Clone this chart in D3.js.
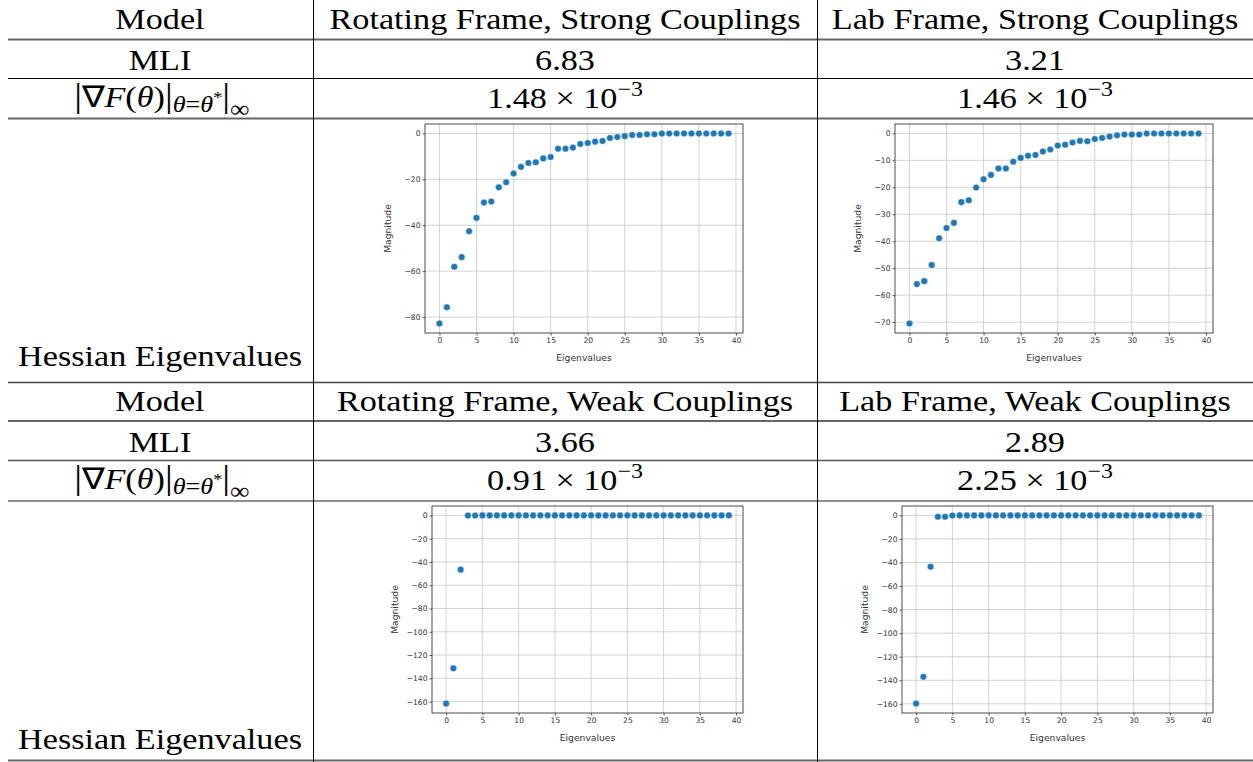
<!DOCTYPE html>
<html>
<head>
<meta charset="utf-8">
<script src="https://cdn.jsdelivr.net/npm/d3@7"></script>
<style>
  body { margin: 0; background: #fff; }
  .cell { font-family: "Liberation Serif", serif; font-size: 30px; fill: #000; }
  .tick text { font-family: "DejaVu Sans", sans-serif; font-size: 7.6px; fill: #333; }
  .axisText { font-family: "DejaVu Sans", sans-serif; font-size: 9.2px; fill: #333; }
</style>
</head>
<body>
<div id="table"></div>
<script>
// table contents
var modelNames = ["Rotating Frame, Strong Couplings", "Lab Frame, Strong Couplings",
                  "Rotating Frame, Weak Couplings", "Lab Frame, Weak Couplings"];
var mliValues = ["6.83", "3.21", "3.66", "2.89"];
var gradValues = ["1.48", "1.46", "0.91", "2.25"];

// eigenvalue index (x)
var eigIndex = [0,1,2,3,4,5,6,7,8,9,10,11,12,13,14,15,16,17,18,19,
                20,21,22,23,24,25,26,27,28,29,30,31,32,33,34,35,36,37,38,39];

// hessian eigenvalues
var rotStrong = [-82.8,-75.7,-58.1,-53.9,-42.6,-36.8,-30.1,-29.7,-23.5,-21.3,
                 -17.5,-14.6,-12.9,-12.6,-10.9,-10.3,-6.7,-6.7,-6.2,-4.6,
                 -4.2,-3.6,-3.3,-2.0,-1.6,-1.2,-0.7,-0.7,-0.4,-0.4,
                 -0.1,-0.05,-0.05,-0.05,-0.05,-0.05,-0.05,-0.05,-0.05,-0.05];
var labStrong = [-70.5,-55.9,-54.8,-48.8,-38.9,-35.1,-33.2,-25.5,-24.8,-20.1,
                 -17.0,-15.4,-13.0,-13.0,-10.5,-9.1,-8.3,-8.0,-6.7,-6.0,
                 -4.5,-4.2,-3.4,-2.8,-2.9,-2.1,-1.7,-1.2,-0.7,-0.4,
                 -0.4,-0.4,-0.05,-0.05,-0.05,-0.05,-0.05,-0.05,-0.05,-0.05];
var rotWeak = [-161.7,-131.4,-46.6,-0.1,-0.1,0,0,0,0,0,
               0,0,0,0,0,0,0,0,0,0,
               0,0,0,0,0,0,0,0,0,0,
               0,0,0,0,0,0,0,0,0,0];
var labWeak = [-159.8,-137.1,-43.6,-1.1,-1.1,-0.1,0,0,0,0,
               0,0,0,0,0,0,0,0,0,0,
               0,0,0,0,0,0,0,0,0,0,
               0,0,0,0,0,0,0,0,0,0];

var xTicks = [0,5,10,15,20,25,30,35,40];
var yTicksStrongRot = [0,-20,-40,-60,-80];
var yTicksStrongLab = [0,-10,-20,-30,-40,-50,-60,-70];
var yTicksWeak = [0,-20,-40,-60,-80,-100,-120,-140,-160];

var svgWidth = 1253;
var svgHeight = 762;

var svg = d3.select("#table")
  .append("svg")
  .attr("width", svgWidth)
  .attr("height", svgHeight);

// column centres and rule positions
var colCenter = [160, 565, 1035];
var vLines = [313, 817];
var hRules = [
  {y: 39.5, w: 2, c: "#666"}, {y: 78.5, w: 1, c: "#000"}, {y: 118.5, w: 2, c: "#666"},
  {y: 382.5, w: 1.5, c: "#444"}, {y: 421, w: 1.5, c: "#333"}, {y: 460.5, w: 1.5, c: "#555"},
  {y: 501, w: 1.2, c: "#222"}, {y: 760.5, w: 2, c: "#666"}
];
// computer modern is wider than times, so stretch the serif text a bit
var stretch = 1.14;

svg.selectAll(".hrule")
  .data(hRules)
  .enter()
  .append("line")
  .attr("x1", 8).attr("x2", svgWidth)
  .attr("y1", d => d.y).attr("y2", d => d.y)
  .attr("stroke", d => d.c)
  .attr("stroke-width", d => d.w);

svg.selectAll(".vrule")
  .data(vLines)
  .enter()
  .append("line")
  .attr("x1", d => d + 0.5).attr("x2", d => d + 0.5)
  .attr("y1", 0).attr("y2", svgHeight)
  .attr("stroke", "#000")
  .attr("stroke-width", 1);

function cellBase(x, y) {
  return svg.append("text")
    .attr("class", "cell")
    .attr("transform", `translate(${x}, ${y}) scale(${stretch}, 1)`)
    .attr("text-anchor", "middle");
}

function cellText(x, y, txt) {
  return cellBase(x, y).text(txt);
}

function gradLabel(x, y) {
  var t = cellBase(x, y);
  t.append("tspan").attr("font-size", "34px").text("|");
  t.append("tspan").text("∇");
  t.append("tspan").attr("font-style", "italic").text("F");
  t.append("tspan").text("(");
  t.append("tspan").attr("font-style", "italic").text("θ");
  t.append("tspan").text(")");
  t.append("tspan").attr("font-size", "34px").text("|");
  t.append("tspan").attr("font-size", "23px").attr("font-style", "italic").attr("dy", 5).text("θ");
  t.append("tspan").attr("font-size", "23px").text("=");
  t.append("tspan").attr("font-size", "23px").attr("font-style", "italic").text("θ");
  t.append("tspan").attr("font-size", "16px").attr("dy", -9).text("*");
  t.append("tspan").attr("font-size", "34px").attr("dy", 4).text("|");
  t.append("tspan").attr("font-size", "24px").attr("dy", 10).text("∞");
}

function sciLabel(x, y, mant) {
  var t = cellBase(x, y);
  t.append("tspan").text(mant + " × 10");
  t.append("tspan").attr("font-size", "21px").attr("dy", -12).text("−3");
}

// two blocks of rows
var blocks = [
  {off: 0, hess: 366, names: [0, 1]},
  {off: 382, hess: 749, names: [2, 3]}
];

blocks.forEach(function(b) {
  cellText(colCenter[0], 29 + b.off, "Model");
  cellText(colCenter[0], 70 + b.off, "MLI");
  gradLabel(colCenter[0] + 2, 107 + b.off);
  cellText(colCenter[0], b.hess, "Hessian Eigenvalues");
  b.names.forEach(function(n, j) {
    cellText(colCenter[j + 1], 29 + b.off, modelNames[n]);
    cellText(colCenter[j + 1], 70 + b.off, mliValues[n]);
    sciLabel(colCenter[j + 1], 108 + b.off, gradValues[n]);
  });
});

// scatter panels
var panels = [
  {vals: rotStrong, ticks: yTicksStrongRot, left: 425, right: 743, top: 124, bottom: 333},
  {vals: labStrong, ticks: yTicksStrongLab, left: 895, right: 1213, top: 124, bottom: 333},
  {vals: rotWeak, ticks: yTicksWeak, left: 432, right: 743, top: 506, bottom: 713},
  {vals: labWeak, ticks: yTicksWeak, left: 902, right: 1213, top: 506, bottom: 713}
];

panels.forEach(function(p) {
  var chartData = eigIndex.map(function(i) { return {idx: i, mag: p.vals[i]}; });

  var xMin = d3.min(eigIndex), xMax = d3.max(eigIndex);
  var xPad = (xMax - xMin) * 0.05;
  var yMin = d3.min(p.vals), yMax = d3.max(p.vals);
  var yPad = (yMax - yMin) * 0.05;

  var xLinearScale = d3.scaleLinear()
    .domain([xMin - xPad, xMax + xPad])
    .range([p.left, p.right]);

  var yLinearScale = d3.scaleLinear()
    .domain([yMin - yPad, yMax + yPad])
    .range([p.bottom, p.top]);

  var chartGroup = svg.append("g");

  // grid
  chartGroup.selectAll(".vgrid")
    .data(xTicks)
    .enter()
    .append("line")
    .attr("x1", d => xLinearScale(d)).attr("x2", d => xLinearScale(d))
    .attr("y1", p.top).attr("y2", p.bottom)
    .attr("stroke", "#c8c8c8").attr("stroke-width", 0.8);

  chartGroup.selectAll(".hgrid")
    .data(p.ticks)
    .enter()
    .append("line")
    .attr("x1", p.left).attr("x2", p.right)
    .attr("y1", d => yLinearScale(d)).attr("y2", d => yLinearScale(d))
    .attr("stroke", "#c8c8c8").attr("stroke-width", 0.8);

  // axes
  var bottomAxis = d3.axisBottom(xLinearScale).tickValues(xTicks).tickSize(2.5).tickPadding(2)
    .tickFormat(d3.format("d"));
  var leftAxis = d3.axisLeft(yLinearScale).tickValues(p.ticks).tickSize(2.5).tickPadding(2)
    .tickFormat(d => d < 0 ? "−" + Math.abs(d) : d);

  var bx = chartGroup.append("g")
    .attr("transform", `translate(0, ${p.bottom})`)
    .call(bottomAxis);
  var ly = chartGroup.append("g")
    .attr("transform", `translate(${p.left}, 0)`)
    .call(leftAxis);
  [bx, ly].forEach(function(a) {
    a.select(".domain").remove();
    a.selectAll(".tick line").attr("stroke", "#333").attr("stroke-width", 0.8);
  });

  // frame
  chartGroup.append("rect")
    .attr("x", p.left).attr("y", p.top)
    .attr("width", p.right - p.left).attr("height", p.bottom - p.top)
    .attr("fill", "none").attr("stroke", "#222").attr("stroke-width", 0.8);

  // points
  chartGroup.selectAll("circle")
    .data(chartData)
    .enter()
    .append("circle")
    .attr("cx", d => xLinearScale(d.idx))
    .attr("cy", d => yLinearScale(d.mag))
    .attr("r", 3.3)
    .attr("fill", "#1f77b4")
    .attr("stroke", "#ffffff")
    .attr("stroke-width", 0.4);

  // axis labels
  chartGroup.append("text")
    .attr("class", "axisText")
    .attr("text-anchor", "middle")
    .attr("x", (p.left + p.right) / 2)
    .attr("y", p.bottom + 28)
    .text("Eigenvalues");

  chartGroup.append("text")
    .attr("class", "axisText")
    .attr("text-anchor", "middle")
    .attr("transform", `translate(${p.left - 34}, ${(p.top + p.bottom) / 2}) rotate(-90)`)
    .text("Magnitude");
});
</script>
</body>
</html>
